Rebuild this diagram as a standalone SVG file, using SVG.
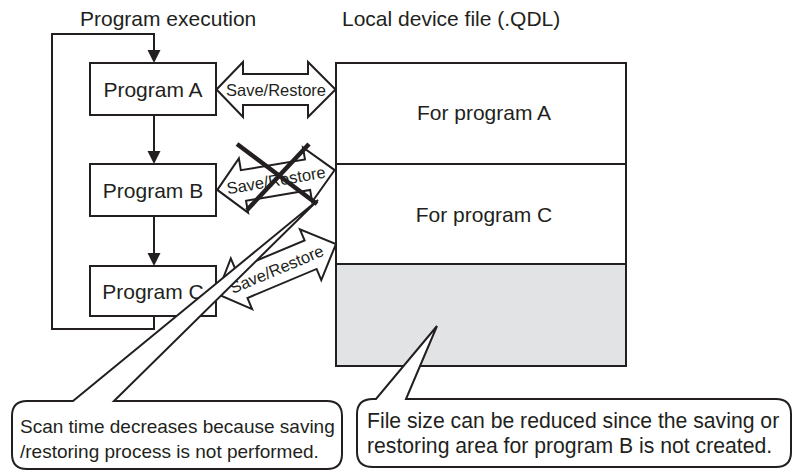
<svg xmlns="http://www.w3.org/2000/svg" width="792" height="471" viewBox="0 0 792 471">
<style>
text{font-family:"Liberation Sans",Arial,sans-serif;fill:#231f20}
.lbl{font-size:21px}
.sr{font-size:16.5px;text-anchor:middle}
.box{fill:#fff;stroke:#231f20;stroke-width:2}
.ln{fill:none;stroke:#231f20;stroke-width:2}
.dbl{fill:#fff;stroke:#231f20;stroke-width:2;stroke-linejoin:miter}
.call{fill:#fff;stroke:#231f20;stroke-width:2;stroke-linejoin:miter}
.cx{stroke:#231f20;stroke-width:4.5;fill:none}
.note{font-size:19px}
.note2{font-size:21.2px}
</style>
<defs>
<polygon id="dA" points="-59.5,0 -33,-27.5 -33,-15.5 32,-15.5 32,-27.5 59.5,0 32,27.5 32,15.5 -33,15.5 -33,27.5"/>
<polygon id="dC" points="-64.5,0 -38,-27.5 -38,-15.5 37,-15.5 37,-27.5 64.5,0 37,27.5 37,15.5 -38,15.5 -38,27.5"/>
<polygon id="ah" points="-6.5,-13 6.5,-13 0,0" fill="#231f20"/>
</defs>

<text class="lbl" x="80" y="26">Program execution</text>
<text class="lbl" x="342" y="26">Local device file (.QDL)</text>

<g id="connectors">
<polyline class="ln" points="154,316 154,329 52,329 52,34 154,34 154,52"/>
<use href="#ah" x="154" y="63"/>
<line class="ln" x1="154" y1="115" x2="154" y2="152"/>
<use href="#ah" x="154" y="164"/>
<line class="ln" x1="154" y1="216" x2="154" y2="254"/>
<use href="#ah" x="154" y="266"/>
</g>

<g id="progA">
<rect class="box" x="90" y="63" width="126" height="52"/>
<text class="lbl" x="153" y="97" text-anchor="middle">Program A</text>
</g>
<g id="progB">
<rect class="box" x="90" y="164" width="126" height="52"/>
<text class="lbl" x="153" y="198" text-anchor="middle">Program B</text>
</g>
<g id="progC">
<rect class="box" x="90" y="266" width="126" height="50"/>
<text class="lbl" x="153" y="299" text-anchor="middle">Program C</text>
</g>

<g id="storage">
<rect x="336" y="264" width="290" height="102" fill="#e2e3e5"/>
<rect class="ln" x="336" y="63" width="290" height="303"/>
<line class="ln" x1="336" y1="164" x2="626" y2="164"/>
<line class="ln" x1="336" y1="264" x2="626" y2="264"/>
<text class="lbl" x="484" y="120" text-anchor="middle">For program A</text>
<text class="lbl" x="484" y="222" text-anchor="middle">For program C</text>
</g>

<g id="saveA">
<use href="#dA" class="dbl" transform="translate(276,89.5)"/>
<text class="sr" x="276" y="95.5">Save/Restore</text>
</g>
<g id="saveB" transform="translate(276,180) rotate(-9.6)">
<use href="#dA" class="dbl"/>
<text class="sr" x="0" y="6">Save/Restore</text>
</g>
<g id="saveC" transform="translate(276.5,269) rotate(-22.8)">
<use href="#dC" class="dbl"/>
<text class="sr" x="0" y="6">Save/Restore</text>
</g>

<g id="note1">
<path class="call" d="M27,401 H73 L318,200 L114,401 H327 Q342,401 342,416 V454 Q342,469 327,469 H27 Q12,469 12,454 V416 Q12,401 27,401 Z"/>
<text class="note" x="20" y="433">Scan time decreases because saving</text>
<text class="note" x="20" y="458">/restoring process is not performed.</text>
</g>

<g id="cross">
<line class="cx" x1="237" y1="144" x2="317" y2="204"/>
<line class="cx" x1="309" y1="144" x2="247" y2="210"/>
</g>

<g id="note2">
<path class="call" d="M373,399 H376 L437,326 L406,399 H776 Q791,399 791,414 V452 Q791,467 776,467 H373 Q357,467 357,452 V414 Q357,399 373,399 Z"/>
<text class="note2" x="367" y="428">File size can be reduced since the saving or</text>
<text class="note2" x="367" y="453">restoring area for program B is not created.</text>
</g>
</svg>
